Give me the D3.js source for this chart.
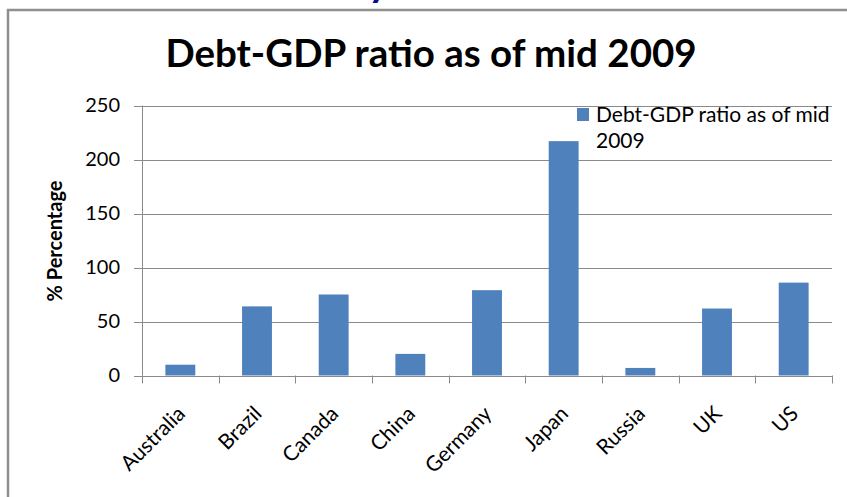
<!DOCTYPE html>
<html>
<head>
<meta charset="utf-8">
<script src="https://cdn.jsdelivr.net/npm/d3@7"></script>
<style>
  body { margin: 0; background: #fff; }
  svg { display: block; font-family: Lato, "Open Sans", sans-serif; }
</style>
</head>
<body>
<svg class="chart" width="847" height="497"></svg>
<script>
var categories = ["Australia", "Brazil", "Canada", "China", "Germany", "Japan", "Russia", "UK", "US"];
var values = [10, 64, 75, 20, 79, 217, 7, 62, 86];
var yTicks = [0, 50, 100, 150, 200, 250];
var seriesName = "Debt-GDP ratio as of mid 2009";

var svg = d3.select(".chart"),
    plot = { left: 142, right: 832, top: 105.5, bottom: 375.5 };

var x = d3.scaleBand()
    .domain(categories)
    .range([plot.left, plot.right])
    .paddingInner(0.61)
    .paddingOuter(0.305);

// category boundaries for the x tick marks
var xEdge = d3.scaleLinear().domain([0, categories.length]).range([plot.left, plot.right]);

var y = d3.scaleLinear().domain([0, 250]).range([plot.bottom, plot.top]);

// frame around the chart (slide object border)
svg.append("path")
    .attr("d", "M8,497V10H847")
    .attr("fill", "none")
    .attr("stroke", "#8f8f8f")
    .attr("stroke-width", 2.5);

// cut off glyph of the slide heading above
svg.append("text")
    .attr("x", 368)
    .attr("y", -4)
    .attr("font-size", 40)
    .attr("font-weight", "bold")
    .attr("fill", "#0c0c8a")
    .text("y");

// title
svg.append("text")
    .attr("x", 431)
    .attr("y", 67)
    .attr("text-anchor", "middle")
    .attr("font-size", 38.5)
    .attr("font-weight", "bold")
    .attr("fill", "#000")
    .text(seriesName);

// gridlines
svg.append("g")
    .selectAll("line")
    .data(yTicks)
    .enter().append("line")
    .attr("x1", plot.left - 8)
    .attr("x2", plot.right)
    .attr("y1", function(d) { return Math.round(y(d)) + 0.5; })
    .attr("y2", function(d) { return Math.round(y(d)) + 0.5; })
    .attr("stroke", "#8a8a8a")
    .attr("stroke-width", 1);

// y axis labels
var yAxis = svg.append("g")
    .attr("transform", "translate(" + (plot.left - 8) + ",0)")
    .call(d3.axisLeft(y).tickValues(yTicks).tickSize(0).tickPadding(14));
yAxis.select(".domain").remove();
yAxis.selectAll("text")
    .attr("font-size", 20)
    .attr("font-family", "Lato, sans-serif")
    .attr("fill", "#000");

// y axis line
svg.append("line")
    .attr("x1", plot.left + 0.5).attr("x2", plot.left + 0.5)
    .attr("y1", plot.top).attr("y2", plot.bottom)
    .attr("stroke", "#8a8a8a");

// x tick marks at category boundaries
svg.append("g")
    .selectAll("line")
    .data(d3.range(categories.length + 1))
    .enter().append("line")
    .attr("x1", function(i) { return Math.round(xEdge(i)) + 0.5; })
    .attr("x2", function(i) { return Math.round(xEdge(i)) + 0.5; })
    .attr("y1", plot.bottom)
    .attr("y2", plot.bottom + 8)
    .attr("stroke", "#8a8a8a");

// bars
svg.append("g")
    .selectAll("rect")
    .data(values)
    .enter().append("rect")
    .attr("x", function(d, i) { return x(categories[i]); })
    .attr("y", function(d) { return y(d); })
    .attr("width", x.bandwidth())
    .attr("height", function(d) { return plot.bottom - y(d); })
    .attr("fill", "#4f81bd");

// x labels, rotated
svg.append("g")
    .selectAll("text")
    .data(categories)
    .enter().append("text")
    .attr("transform", function(d) {
        return "translate(" + (x(d) + x.bandwidth() / 2 + 6) + "," + 415 + ") rotate(-45)";
    })
    .attr("text-anchor", "end")
    .attr("font-size", 21)
    .attr("fill", "#000")
    .text(function(d) { return d; });

// y axis title
svg.append("text")
    .attr("transform", "translate(62,241) rotate(-90)")
    .attr("text-anchor", "middle")
    .attr("font-size", 20)
    .attr("font-weight", "bold")
    .attr("fill", "#000")
    .text("% Percentage");

// legend
var legend = svg.append("g");
legend.append("rect")
    .attr("x", 577)
    .attr("y", 108)
    .attr("width", 12)
    .attr("height", 13)
    .attr("fill", "#4f81bd");
legend.append("text")
    .attr("x", 596)
    .attr("y", 122)
    .attr("font-size", 21)
    .attr("fill", "#000")
    .text("Debt-GDP ratio as of mid");
legend.append("text")
    .attr("x", 596)
    .attr("y", 148)
    .attr("font-size", 21)
    .attr("fill", "#000")
    .text("2009");
</script>
</body>
</html>
